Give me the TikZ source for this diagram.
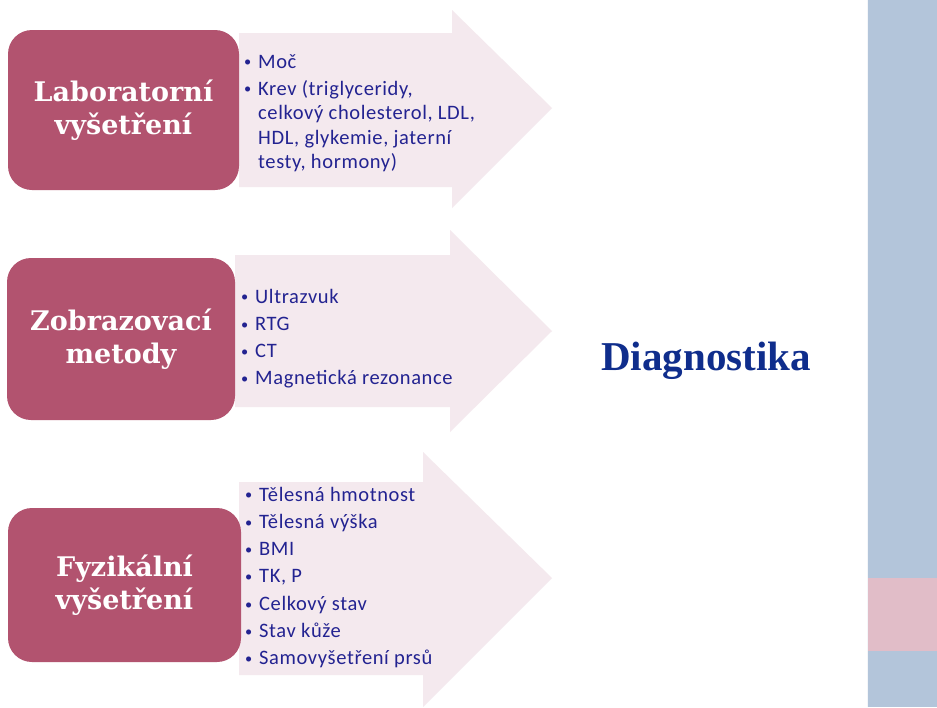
\documentclass[tikz,border=0pt]{standalone}
\usepackage{fontspec}
\setmainfont{Carlito}[LetterSpace=3]
\newfontfamily\headfont{DejaVu Serif}
\newfontfamily\bigfont{Liberation Serif}

\definecolor{boxfill}{RGB}{178,83,111}
\definecolor{arrowfill}{RGB}{244,233,238}
\definecolor{itemblue}{RGB}{35,35,145}
\definecolor{diagblue}{RGB}{15,45,140}
\definecolor{barblue}{RGB}{179,197,218}
\definecolor{barpink}{RGB}{225,189,200}

% small bullet with fixed indent, and indent for continuation lines
\newcommand{\bul}{\makebox[14pt][l]{\raisebox{1.2pt}{\scalebox{0.7}{\textbullet}}}}
\newcommand{\cont}{\hspace*{14pt}}
% list block whose reference point is the first baseline
\newcommand{\itemblock}[1]{\parbox[t]{300pt}{\raggedright #1}}

\tikzset{
  arrowshape/.style={fill=arrowfill, draw=none},
  catbox/.style={fill=boxfill, draw=none, rounded corners=24pt},
  cattext/.style={text=white, align=center, inner sep=0pt,
    font=\headfont\bfseries\fontsize{27}{33}\selectfont},
  itemlist/.style={text=itemblue, inner sep=0pt, anchor=base west,
    font=\fontsize{20.5}{24.5}\selectfont},
  titletext/.style={text=diagblue, inner sep=0pt, anchor=base,
    font=\bigfont\bfseries\fontsize{41}{41}\selectfont},
}

\begin{document}
\begin{tikzpicture}[x=1pt,y=-1pt]
\useasboundingbox (0,0) rectangle (937,707);
\fill[white] (0,0) rectangle (937,707);

% right side bar
\fill[barblue] (868,0) rectangle (937,707);
\fill[barpink] (868,578) rectangle (937,651);
\draw[white!85!barblue, line width=1.5pt] (867.5,0) -- (867.5,707);

% block arrows
\path[arrowshape] (239,33) -- (452,33) -- (452,10) -- (552,108)
  -- (452,208) -- (452,187) -- (239,187) -- cycle;
\path[arrowshape] (235,255) -- (450,255) -- (450,230) -- (552,331)
  -- (450,432) -- (450,407) -- (235,407) -- cycle;
\path[arrowshape] (239,482) -- (423,482) -- (423,452) -- (552,578)
  -- (423,707) -- (423,675) -- (239,675) -- cycle;

% category boxes
\fill[catbox] (8,30) rectangle (239,190);
\fill[catbox] (7,258) rectangle (235,420);
\fill[catbox] (8,508) rectangle (241,662);

\node[cattext] (lab) at (123.5,110) {Laboratorní\\vyšetření};
\node[cattext] (zob) at (121,339) {Zobrazovací\\metody};
\node[cattext] (fyz) at (124.5,585) {Fyzikální\\vyšetření};

% item lists
\node[itemlist] (labitems) at (244,68) {\itemblock{\bul Moč\\[2.5pt]
  \bul Krev (triglyceridy,\\
  \cont celkový cholesterol, LDL,\\
  \cont HDL, glykemie, jaterní\\
  \cont testy, hormony)}};

\node[itemlist, font=\fontsize{20.5}{27.3}\selectfont] (zobitems) at (241,303)
  {\itemblock{\bul Ultrazvuk\\ \bul RTG\\ \bul CT\\ \bul Magnetická rezonance}};

\node[itemlist, font=\fontsize{20.5}{27.3}\selectfont] (fyzitems) at (245,501)
  {\itemblock{\bul Tělesná hmotnost\\ \bul Tělesná výška\\ \bul BMI\\ \bul TK, P\\
   \bul Celkový stav\\ \bul Stav kůže\\ \bul Samovyšetření prsů}};

% result
\node[titletext] (diag) at (706,370) {Diagnostika};
\end{tikzpicture}
\end{document}
